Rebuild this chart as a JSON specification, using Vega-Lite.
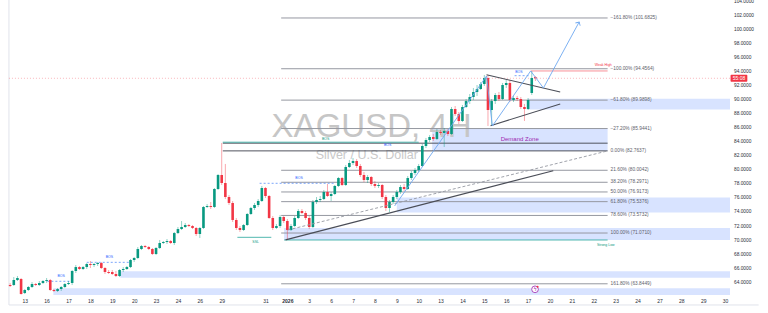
{
"$schema": "https://vega.github.io/schema/vega-lite/v6.json",
"width": 735, "height": 295,
"autosize": {"type": "none"},
"padding": {"left": 0, "top": 0, "right": 33, "bottom": 18},
"background": "#ffffff",
"config": {"view": {"stroke": null}, "text": {"font": "Liberation Sans"}, "axis": {"labelFont": "Liberation Sans"}},
"datasets": {
"candles": [
{"t":-4,"o":63.67,"c":63.53,"h":63.96,"l":63.39},
{"t":-3,"o":63.67,"c":64.38,"h":64.81,"l":63.53},
{"t":-2,"o":64.38,"c":64.67,"h":64.95,"l":64.24},
{"t":-1,"o":64.53,"c":62.39,"h":64.67,"l":62.30},
{"t":0,"o":62.53,"c":62.96,"h":63.10,"l":62.39},
{"t":1,"o":62.96,"c":63.39,"h":63.53,"l":62.82},
{"t":2,"o":63.39,"c":63.81,"h":64.10,"l":63.25},
{"t":3,"o":63.81,"c":63.67,"h":63.96,"l":63.53},
{"t":4,"o":63.67,"c":63.96,"h":64.24,"l":63.53},
{"t":5,"o":63.96,"c":64.24,"h":64.38,"l":63.81},
{"t":6,"o":64.24,"c":64.38,"h":64.67,"l":63.96},
{"t":7,"o":64.38,"c":62.96,"h":64.53,"l":62.82},
{"t":8,"o":62.96,"c":62.82,"h":63.10,"l":62.68},
{"t":9,"o":62.82,"c":63.10,"h":63.25,"l":62.68},
{"t":10,"o":63.10,"c":63.39,"h":63.53,"l":62.82},
{"t":11,"o":63.39,"c":63.81,"h":63.96,"l":63.25},
{"t":12,"o":63.81,"c":63.96,"h":64.24,"l":63.67},
{"t":13,"o":63.96,"c":65.67,"h":65.81,"l":63.67},
{"t":14,"o":65.67,"c":66.23,"h":66.52,"l":65.38},
{"t":15,"o":66.23,"c":65.95,"h":66.38,"l":65.81},
{"t":16,"o":65.95,"c":66.23,"h":66.38,"l":65.81},
{"t":17,"o":66.23,"c":66.66,"h":66.80,"l":65.95},
{"t":18,"o":66.66,"c":66.52,"h":67.09,"l":66.09},
{"t":19,"o":66.52,"c":66.66,"h":66.80,"l":66.23},
{"t":20,"o":66.66,"c":66.80,"h":66.95,"l":66.38},
{"t":21,"o":66.80,"c":66.09,"h":66.95,"l":65.95},
{"t":22,"o":66.09,"c":65.52,"h":66.23,"l":65.24},
{"t":23,"o":65.52,"c":65.38,"h":65.81,"l":65.24},
{"t":24,"o":65.52,"c":65.24,"h":65.81,"l":65.10},
{"t":25,"o":65.24,"c":64.95,"h":65.67,"l":64.81},
{"t":26,"o":64.95,"c":65.81,"h":65.95,"l":64.81},
{"t":27,"o":65.81,"c":65.95,"h":66.23,"l":65.52},
{"t":28,"o":65.95,"c":66.23,"h":66.38,"l":65.81},
{"t":29,"o":66.23,"c":67.23,"h":67.37,"l":66.09},
{"t":30,"o":67.23,"c":67.52,"h":67.66,"l":66.95},
{"t":31,"o":67.52,"c":68.80,"h":69.08,"l":67.37},
{"t":32,"o":68.80,"c":69.22,"h":69.37,"l":68.65},
{"t":33,"o":69.22,"c":69.08,"h":69.37,"l":68.94},
{"t":34,"o":69.08,"c":68.80,"h":69.22,"l":68.65},
{"t":35,"o":68.80,"c":68.09,"h":68.94,"l":67.94},
{"t":36,"o":68.09,"c":68.94,"h":69.08,"l":67.94},
{"t":37,"o":68.94,"c":69.65,"h":70.08,"l":68.80},
{"t":38,"o":69.65,"c":69.79,"h":69.94,"l":69.51},
{"t":39,"o":69.79,"c":69.94,"h":70.22,"l":69.51},
{"t":40,"o":69.94,"c":69.65,"h":70.08,"l":69.51},
{"t":41,"o":69.65,"c":71.07,"h":71.22,"l":69.37},
{"t":42,"o":71.07,"c":71.64,"h":71.93,"l":70.93},
{"t":43,"o":71.64,"c":71.93,"h":72.78,"l":71.50},
{"t":44,"o":71.93,"c":72.21,"h":72.50,"l":71.79},
{"t":45,"o":72.21,"c":72.07,"h":72.36,"l":71.93},
{"t":46,"o":72.07,"c":71.79,"h":72.21,"l":71.64},
{"t":47,"o":71.79,"c":70.93,"h":71.93,"l":70.65},
{"t":48,"o":70.93,"c":71.79,"h":71.93,"l":70.36},
{"t":49,"o":71.79,"c":74.78,"h":74.92,"l":71.64},
{"t":50,"o":74.78,"c":74.92,"h":75.20,"l":74.63},
{"t":51,"o":74.92,"c":74.78,"h":75.49,"l":74.49},
{"t":52,"o":74.78,"c":77.34,"h":77.48,"l":74.63},
{"t":53,"o":77.34,"c":79.33,"h":79.47,"l":77.20},
{"t":54,"o":79.33,"c":78.19,"h":83.89,"l":77.91},
{"t":55,"o":78.19,"c":76.20,"h":80.90,"l":75.91},
{"t":56,"o":76.20,"c":75.35,"h":76.48,"l":75.06},
{"t":57,"o":75.35,"c":72.93,"h":75.63,"l":72.64},
{"t":58,"o":72.93,"c":71.79,"h":73.21,"l":71.50},
{"t":59,"o":71.79,"c":71.50,"h":72.07,"l":71.22},
{"t":60,"o":71.50,"c":72.21,"h":72.36,"l":71.36},
{"t":61,"o":72.21,"c":73.78,"h":73.92,"l":72.07},
{"t":62,"o":73.78,"c":74.63,"h":74.78,"l":73.64},
{"t":63,"o":74.63,"c":75.06,"h":75.35,"l":74.35},
{"t":64,"o":75.06,"c":75.63,"h":75.91,"l":74.78},
{"t":65,"o":75.63,"c":77.48,"h":77.77,"l":75.49},
{"t":66,"o":77.48,"c":76.34,"h":77.62,"l":76.06},
{"t":67,"o":76.34,"c":73.21,"h":76.48,"l":73.07},
{"t":68,"o":73.21,"c":71.79,"h":73.49,"l":71.50},
{"t":69,"o":71.79,"c":72.07,"h":72.36,"l":71.64},
{"t":70,"o":72.07,"c":73.35,"h":73.64,"l":71.79},
{"t":71,"o":73.35,"c":72.78,"h":73.49,"l":72.50},
{"t":72,"o":72.78,"c":71.50,"h":73.07,"l":70.08},
{"t":73,"o":71.50,"c":72.07,"h":72.36,"l":71.36},
{"t":74,"o":72.07,"c":73.21,"h":73.49,"l":71.93},
{"t":75,"o":73.21,"c":74.21,"h":74.49,"l":73.07},
{"t":76,"o":74.21,"c":73.92,"h":74.49,"l":73.78},
{"t":77,"o":73.92,"c":73.21,"h":74.21,"l":72.93},
{"t":78,"o":73.21,"c":71.93,"h":73.49,"l":71.64},
{"t":79,"o":71.93,"c":75.49,"h":75.77,"l":71.79},
{"t":80,"o":75.49,"c":75.77,"h":76.20,"l":75.20},
{"t":81,"o":75.77,"c":75.91,"h":76.34,"l":75.49},
{"t":82,"o":75.91,"c":76.91,"h":77.20,"l":75.77},
{"t":83,"o":76.91,"c":76.34,"h":78.05,"l":76.20},
{"t":84,"o":76.34,"c":76.63,"h":76.91,"l":75.63},
{"t":85,"o":76.63,"c":77.77,"h":77.91,"l":76.48},
{"t":86,"o":77.77,"c":78.90,"h":79.05,"l":77.62},
{"t":87,"o":78.90,"c":77.91,"h":79.05,"l":77.77},
{"t":88,"o":77.91,"c":80.47,"h":80.75,"l":77.77},
{"t":89,"o":80.47,"c":81.04,"h":81.47,"l":80.33},
{"t":90,"o":81.04,"c":81.32,"h":81.75,"l":80.75},
{"t":91,"o":81.32,"c":80.61,"h":81.61,"l":80.33},
{"t":92,"o":80.61,"c":79.33,"h":80.90,"l":79.05},
{"t":93,"o":79.33,"c":78.62,"h":79.76,"l":78.33},
{"t":94,"o":78.62,"c":79.05,"h":79.33,"l":78.19},
{"t":95,"o":79.05,"c":78.05,"h":79.19,"l":77.77},
{"t":96,"o":78.05,"c":77.77,"h":78.48,"l":77.48},
{"t":97,"o":77.77,"c":77.91,"h":78.19,"l":77.48},
{"t":98,"o":77.91,"c":76.20,"h":78.05,"l":75.91},
{"t":99,"o":76.20,"c":74.63,"h":76.48,"l":74.21},
{"t":100,"o":74.63,"c":75.49,"h":75.77,"l":74.06},
{"t":101,"o":75.49,"c":76.20,"h":76.48,"l":75.20},
{"t":102,"o":76.20,"c":76.91,"h":77.20,"l":75.91},
{"t":103,"o":76.91,"c":77.62,"h":77.91,"l":76.63},
{"t":104,"o":77.62,"c":77.34,"h":78.05,"l":77.05},
{"t":105,"o":77.34,"c":78.90,"h":79.19,"l":77.20},
{"t":106,"o":78.90,"c":79.62,"h":79.90,"l":78.62},
{"t":107,"o":79.62,"c":80.04,"h":80.33,"l":79.33},
{"t":108,"o":80.04,"c":80.61,"h":80.90,"l":79.76},
{"t":109,"o":80.61,"c":83.46,"h":83.74,"l":80.47},
{"t":110,"o":83.46,"c":84.31,"h":84.60,"l":83.17},
{"t":111,"o":84.31,"c":84.74,"h":85.02,"l":84.03},
{"t":112,"o":84.74,"c":84.46,"h":85.17,"l":84.17},
{"t":113,"o":84.46,"c":85.45,"h":85.88,"l":84.31},
{"t":114,"o":85.45,"c":85.31,"h":85.74,"l":85.02},
{"t":115,"o":85.31,"c":85.59,"h":86.02,"l":83.32},
{"t":116,"o":85.59,"c":85.17,"h":85.88,"l":84.88},
{"t":117,"o":85.17,"c":88.73,"h":89.01,"l":85.02},
{"t":118,"o":88.73,"c":88.01,"h":89.15,"l":87.73},
{"t":119,"o":88.01,"c":87.02,"h":88.30,"l":86.59},
{"t":120,"o":87.02,"c":89.01,"h":89.30,"l":86.88},
{"t":121,"o":89.01,"c":89.86,"h":90.15,"l":88.87},
{"t":122,"o":89.86,"c":90.43,"h":90.86,"l":89.44},
{"t":123,"o":90.43,"c":91.15,"h":91.72,"l":90.01},
{"t":124,"o":91.15,"c":91.57,"h":92.14,"l":90.58},
{"t":125,"o":91.57,"c":92.28,"h":92.57,"l":91.43},
{"t":126,"o":92.28,"c":93.14,"h":93.57,"l":92.00},
{"t":127,"o":93.14,"c":88.58,"h":93.57,"l":86.31},
{"t":128,"o":88.58,"c":89.86,"h":90.15,"l":86.31},
{"t":129,"o":89.86,"c":90.72,"h":91.00,"l":89.44},
{"t":130,"o":90.72,"c":90.15,"h":91.15,"l":89.86},
{"t":131,"o":90.15,"c":92.14,"h":92.43,"l":90.01},
{"t":132,"o":92.14,"c":92.43,"h":92.85,"l":91.72},
{"t":133,"o":92.43,"c":90.01,"h":92.85,"l":89.72},
{"t":134,"o":90.01,"c":90.29,"h":90.58,"l":89.72},
{"t":135,"o":90.29,"c":90.15,"h":90.58,"l":89.86},
{"t":136,"o":90.15,"c":89.01,"h":90.43,"l":88.73},
{"t":137,"o":89.01,"c":88.73,"h":89.44,"l":87.02},
{"t":138,"o":88.73,"c":90.01,"h":90.29,"l":88.58},
{"t":139,"o":91.00,"c":93.14,"h":94.14,"l":90.72},
{"t":140,"o":93.28,"c":93.10,"h":93.42,"l":92.71}
],
"bands": [
{"t":111.7,"t2":159.8,"p":82.76,"p2":85.94},
{"t":137.9,"t2":193.35,"p":88.65,"p2":90.2},
{"t":102,"t2":193.35,"p":73.99,"p2":76.13},
{"t":71.1,"t2":193.35,"p":70.08,"p2":71.79},
{"t":26.2,"t2":193.35,"p":64.71,"p2":65.62},
{"t":7.84,"t2":193.35,"p":62.25,"p2":63.2}
],
"fibLines": [
{"t":70.3,"t2":159.8,"p":101.6825},
{"t":70.3,"t2":159.8,"p":94.4564},
{"t":70.3,"t2":159.8,"p":89.9898},
{"t":70.3,"t2":159.8,"p":85.9441},
{"t":70.3,"t2":159.8,"p":80.0042},
{"t":70.3,"t2":159.8,"p":78.2971},
{"t":70.3,"t2":159.8,"p":76.9173},
{"t":70.3,"t2":159.8,"p":75.5376},
{"t":70.3,"t2":159.8,"p":73.5732},
{"t":70.3,"t2":159.8,"p":71.0710},
{"t":70.3,"t2":159.8,"p":63.8449}
],
"fibLabels": [
{"t":160.6,"p":101.6825,"label":"−161.80% (101.6825)"},
{"t":160.6,"p":94.4564,"label":"−100.00% (94.4564)"},
{"t":160.6,"p":89.9898,"label":"−61.80% (89.9898)"},
{"t":160.6,"p":85.9441,"label":"−27.20% (85.9441)"},
{"t":160.6,"p":82.7637,"label":"0.00% (82.7637)"},
{"t":160.6,"p":80.0042,"label":"21.60% (80.0042)"},
{"t":160.6,"p":78.2971,"label":"38.20% (78.2971)"},
{"t":160.6,"p":76.9173,"label":"50.00% (76.9173)"},
{"t":160.6,"p":75.5376,"label":"61.80% (75.5376)"},
{"t":160.6,"p":73.5732,"label":"78.60% (73.5732)"},
{"t":160.6,"p":71.0710,"label":"100.00% (71.0710)"},
{"t":160.6,"p":63.8449,"label":"161.80% (63.8449)"}
],
"priceLabels": [
{"t":193.35,"p":64},{"t":193.35,"p":66},{"t":193.35,"p":68},{"t":193.35,"p":70},{"t":193.35,"p":72},{"t":193.35,"p":74},{"t":193.35,"p":76},{"t":193.35,"p":78},{"t":193.35,"p":80},{"t":193.35,"p":82},{"t":193.35,"p":84},{"t":193.35,"p":86},{"t":193.35,"p":88},{"t":193.35,"p":90},{"t":193.35,"p":92},{"t":193.35,"p":94},{"t":193.35,"p":96},{"t":193.35,"p":98},{"t":193.35,"p":100},{"t":193.35,"p":102},{"t":193.35,"p":104}
],
"darkLines": [
{"t":54.3,"t2":159.8,"p":82.7637},
{"t":54.3,"t2":159.8,"p":83.86}
],
"tealLines": [
{"t":54.3,"t2":108,"p":84.0},
{"t":71.1,"t2":159.8,"p":70.08},
{"t":58.3,"t2":67.6,"p":70.46}
],
"bosLines": [
{"t":64.4,"t2":85.2,"p":78.15},
{"t":17.0,"t2":29.2,"p":66.90},
{"t":6.2,"t2":12.7,"p":64.2},
{"t":134.3,"t2":138.4,"p":93.47}
],
"weakHigh": [{"t":138.7,"t2":159.8,"p":94.14}],
"priceLine": [{"t":-4.33,"t2":193.35,"p":93.10}],
"segments": [
{"t":71.5,"p":70.1,"t2":144.9,"p2":79.94},
{"t":126.6,"p":93.61,"t2":146.8,"p2":91.15},
{"t":127.7,"p":86.35,"t2":146.8,"p2":89.44}
],
"dashed": [{"t":72.1,"p":71.5,"t2":159.7,"p2":82.75}],
"path": [
{"s":1,"t":101.4,"p":74.92},
{"s":2,"t":126.6,"p":93.42},
{"s":3,"t":128.2,"p":86.31},
{"s":4,"t":138.7,"p":94.14},
{"s":5,"t":142.2,"p":91.72},
{"s":6,"t":152.0,"p":101.11}
],
"tealText": [
{"t":82.5,"p":84.5,"label":"BOS"},
{"t":63.3,"p":69.75,"label":"SSL"},
{"t":159.3,"p":69.37,"label":"Strong Low"}
],
"blueText": [
{"t":75.2,"p":78.9,"label":"BOS"},
{"t":23.2,"p":67.6,"label":"BOS"},
{"t":10.0,"p":64.95,"label":"BOS"},
{"t":135.5,"p":93.99,"label":"BOS"},
{"t":99.5,"p":83.6,"label":"BOS"}
]
},
"encoding": {
"x": {"field": "t", "type": "quantitative",
 "scale": {"domain": [-5.41, 193.35], "nice": false, "zero": false},
 "axis": {"title": null, "values": [0,6,12,18,24,30,36,42,48,54,60,66,72,78,84,90,96,102,108,114,120,126,132,138,144,150,156,162,168,174,180,186,192],
  "labelExpr": "['13','16','17','18','19','20','23','24','26','29','','31','2026','3','6','7','8','9','10','13','14','15','16','17','20','21','22','23','24','27','28','29','30'][round(datum.value/6)]",
  "domain": false, "ticks": false, "grid": false, "labelFontSize": 5, "labelColor": "#2a2e39", "labelPadding": 3, "labelFlush": false, "labelOverlap": false,
  "labelFontWeight": {"condition": {"test": "datum.value == 72", "value": "bold"}, "value": "normal"}}},
"y": {"field": "p", "type": "quantitative",
 "scale": {"domain": [62.25, 104.242], "nice": false, "zero": false},
 "axis": null}
},
"layer": [
{"data": {"values": [{"t":-4.33,"p":60.83,"p2":104.242}]}, "mark": {"type": "rule", "stroke": "#e0e3eb", "strokeWidth": 1}, "encoding": {"y2": {"field": "p2"}}},
{"data": {"values": [{"t":-4.33,"t2":201.2,"p":60.83}]}, "mark": {"type": "rule", "stroke": "#e0e3eb", "strokeWidth": 1}, "encoding": {"x2": {"field": "t2"}}},
{"data": {"name": "bands"}, "mark": {"type": "rect", "fill": "#2962ff", "fillOpacity": 0.18}, "encoding": {"x2": {"field": "t2"}, "y2": {"field": "p2"}}},
{"data": {"values": [{"t":95.08,"p":84.78,"label":"XAGUSD, 4H"}]}, "mark": {"type": "text", "fontSize": 33, "align": "center", "baseline": "alphabetic", "color": "#c6c6c6"}, "encoding": {"text": {"field": "label"}}},
{"data": {"values": [{"t":93.78,"p":81.61,"label":"Silver / U.S. Dollar"}]}, "mark": {"type": "text", "fontSize": 12.5, "align": "center", "baseline": "alphabetic", "color": "#c9c9c9"}, "encoding": {"text": {"field": "label"}}},
{"data": {"name": "fibLines"}, "mark": {"type": "rule", "stroke": "#9598a1", "strokeWidth": 1}, "encoding": {"x2": {"field": "t2"}}},
{"data": {"name": "darkLines"}, "mark": {"type": "rule", "stroke": "#50535e", "strokeWidth": 1}, "encoding": {"x2": {"field": "t2"}}},
{"data": {"name": "tealLines"}, "mark": {"type": "rule", "stroke": "#26a69a", "strokeWidth": 0.8}, "encoding": {"x2": {"field": "t2"}}},
{"data": {"name": "bosLines"}, "mark": {"type": "rule", "stroke": "#5b8ff9", "strokeWidth": 0.8, "strokeDash": [2, 2]}, "encoding": {"x2": {"field": "t2"}}},
{"data": {"name": "weakHigh"}, "mark": {"type": "rule", "stroke": "#f23645", "strokeWidth": 0.8, "opacity": 0.7}, "encoding": {"x2": {"field": "t2"}}},
{"data": {"name": "priceLine"}, "mark": {"type": "rule", "stroke": "#f23645", "strokeWidth": 0.6, "strokeDash": [1, 2], "opacity": 0.6}, "encoding": {"x2": {"field": "t2"}}},
{"data": {"name": "candles"}, "mark": {"type": "rule", "strokeWidth": 0.8, "opacity": 0.55},
 "encoding": {"y": {"field": "l", "type": "quantitative", "scale": {"domain": [62.25, 104.242], "nice": false, "zero": false}, "axis": null}, "y2": {"field": "h"},
  "color": {"condition": {"test": "datum.c >= datum.o", "value": "#089981"}, "value": "#f23645"}}},
{"data": {"name": "candles"}, "mark": {"type": "bar", "size": 2.6},
 "encoding": {"y": {"field": "o", "type": "quantitative", "scale": {"domain": [62.25, 104.242], "nice": false, "zero": false}, "axis": null}, "y2": {"field": "c"},
  "color": {"condition": {"test": "datum.c >= datum.o", "value": "#089981"}, "value": "#f23645"}}},
{"data": {"name": "segments"}, "mark": {"type": "rule", "stroke": "#4a4d57", "strokeWidth": 1.1}, "encoding": {"x2": {"field": "t2"}, "y2": {"field": "p2"}}},
{"data": {"name": "dashed"}, "mark": {"type": "rule", "stroke": "#9598a1", "strokeWidth": 0.9, "strokeDash": [3, 2]}, "encoding": {"x2": {"field": "t2"}, "y2": {"field": "p2"}}},
{"data": {"name": "path"}, "mark": {"type": "line", "stroke": "#6ea8f0", "strokeWidth": 0.9}, "encoding": {"order": {"field": "s"}}},
{"data": {"values": [{"t":152.0,"p":101.11}]}, "mark": {"type": "point", "shape": "M-1,1L0,0L1,1", "filled": false, "stroke": "#6ea8f0", "strokeWidth": 0.9, "size": 30, "angle": 30, "opacity": 1}},
{"data": {"name": "fibLabels"}, "mark": {"type": "text", "fontSize": 4.8, "align": "left", "baseline": "middle", "color": "#5d606b"}, "encoding": {"text": {"field": "label"}}},
{"data": {"name": "tealText"}, "mark": {"type": "text", "fontSize": 3.5, "align": "center", "baseline": "middle", "color": "#089981"}, "encoding": {"text": {"field": "label"}}},
{"data": {"name": "blueText"}, "mark": {"type": "text", "fontSize": 3.5, "align": "center", "baseline": "middle", "color": "#2962ff"}, "encoding": {"text": {"field": "label"}}},
{"data": {"values": [{"t":158.6,"p":95.05,"label":"Weak High"}]}, "mark": {"type": "text", "fontSize": 3.5, "align": "center", "baseline": "middle", "color": "#f23645"}, "encoding": {"text": {"field": "label"}}},
{"data": {"values": [{"t":135.7,"p":84.46,"label":"Demand Zone"}]}, "mark": {"type": "text", "fontSize": 6, "align": "center", "baseline": "middle", "color": "#9c27b0"}, "encoding": {"text": {"field": "label"}}},
{"data": {"name": "priceLabels"}, "mark": {"type": "text", "fontSize": 4.8, "align": "left", "baseline": "middle", "color": "#2a2e39", "dx": 4},
 "encoding": {"text": {"field": "p", "type": "quantitative", "format": ".4f"}}},
{"data": {"values": [{"t":193.5,"t2":198.1,"p":92.61,"p2":93.59}]}, "mark": {"type": "rect", "fill": "#f23645", "cornerRadius": 1}, "encoding": {"x2": {"field": "t2"}, "y2": {"field": "p2"}}},
{"data": {"values": [{"t":195.8,"p":93.1,"label":"55:08"}]}, "mark": {"type": "text", "fontSize": 5, "align": "center", "baseline": "middle", "color": "#ffffff"}, "encoding": {"text": {"field": "label"}}},
{"data": {"values": [{"t":139.9,"p":63.06}]}, "mark": {"type": "point", "shape": "circle", "size": 45, "filled": true, "fill": "#ffffff", "stroke": "#9c27b0", "strokeWidth": 0.8, "opacity": 1}},
{"data": {"values": [{"t":139.9,"p":63.06,"label":"ϟ"}]}, "mark": {"type": "text", "fontSize": 5, "align": "center", "baseline": "middle", "color": "#9c27b0"}, "encoding": {"text": {"field": "label"}}},
{"data": {"values": [{"t":140.6,"p":63.42}]}, "mark": {"type": "point", "shape": "circle", "size": 4, "filled": true, "color": "#f23645", "opacity": 1}}
]
}
